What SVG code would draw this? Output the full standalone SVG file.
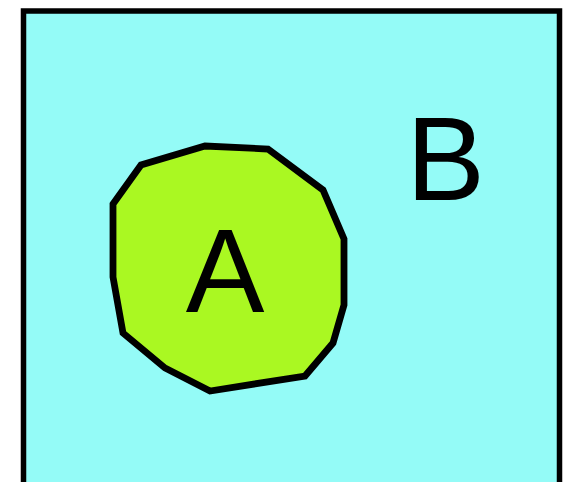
<svg xmlns="http://www.w3.org/2000/svg" width="567" height="482" viewBox="0 0 567 482">
<style>
.lbl{font-family:"Liberation Sans",Arial,sans-serif;font-size:118px;fill:#000;text-anchor:middle}
</style>
<rect width="567" height="482" fill="#ffffff"/>
<g id="B">
<rect x="23.5" y="11" width="536" height="490" fill="#94fbf7" stroke="#000" stroke-width="5.5"/>
<text class="lbl" x="445.5" y="200">B</text>
</g>
<g id="A">
<polygon points="113,204 141,165 205,146 268,149 323,190 344,239 344,305 333,343 305,376 210,391 165,368 123,333 113,277" fill="#aaf822" stroke="#000" stroke-width="6.8" stroke-linejoin="miter"/>
<text class="lbl" x="225" y="312">A</text>
</g>
<g id="connectors"/>
</svg>
